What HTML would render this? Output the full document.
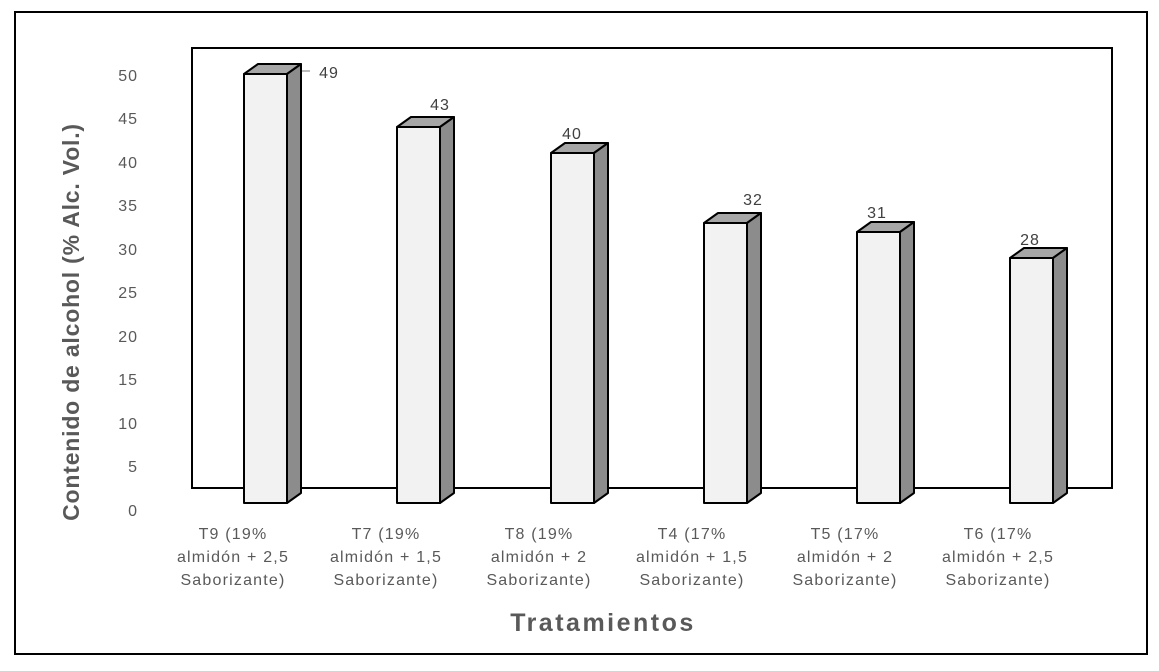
<!DOCTYPE html>
<html><head><meta charset="utf-8"><style>body{margin:0;background:#fff}</style></head><body>
<svg width="1159" height="666" xmlns="http://www.w3.org/2000/svg" font-family="Liberation Sans, sans-serif">
<rect x="15" y="12" width="1132" height="642" fill="#fff" stroke="#000" stroke-width="2"/>
<rect x="192" y="48" width="920" height="440" fill="#fff" stroke="#000" stroke-width="2"/>
<g fill="#595959" font-size="16" text-anchor="end" letter-spacing="1">
<text x="138" y="516">0</text><text x="138" y="472">5</text><text x="138" y="429">10</text><text x="138" y="385">15</text><text x="138" y="342">20</text><text x="138" y="298">25</text><text x="138" y="255">30</text><text x="138" y="211">35</text><text x="138" y="168">40</text><text x="138" y="124">45</text><text x="138" y="81">50</text>
</g>
<g stroke="#000" stroke-width="2" stroke-linejoin="round">
<g><polygon points="244,74 287,74 301,64 258,64" fill="#a6a6a6"/><polygon points="287,74 301,64 301,493 287,503" fill="#8c8c8c"/><rect x="244" y="74" width="43" height="429" fill="#f2f2f2"/></g>
<g><polygon points="397,127 440,127 454,117 411,117" fill="#a6a6a6"/><polygon points="440,127 454,117 454,493 440,503" fill="#8c8c8c"/><rect x="397" y="127" width="43" height="376" fill="#f2f2f2"/></g>
<g><polygon points="551,153 594,153 608,143 565,143" fill="#a6a6a6"/><polygon points="594,153 608,143 608,493 594,503" fill="#8c8c8c"/><rect x="551" y="153" width="43" height="350" fill="#f2f2f2"/></g>
<g><polygon points="704,223 747,223 761,213 718,213" fill="#a6a6a6"/><polygon points="747,223 761,213 761,493 747,503" fill="#8c8c8c"/><rect x="704" y="223" width="43" height="280" fill="#f2f2f2"/></g>
<g><polygon points="857,232 900,232 914,222 871,222" fill="#a6a6a6"/><polygon points="900,232 914,222 914,493 900,503" fill="#8c8c8c"/><rect x="857" y="232" width="43" height="271" fill="#f2f2f2"/></g>
<g><polygon points="1010,258 1053,258 1067,248 1024,248" fill="#a6a6a6"/><polygon points="1053,258 1067,248 1067,493 1053,503" fill="#8c8c8c"/><rect x="1010" y="258" width="43" height="245" fill="#f2f2f2"/></g>
</g>
<line x1="302" y1="71" x2="310" y2="71" stroke="#777" stroke-width="1"/>
<g fill="#404040" font-size="16" text-anchor="middle" letter-spacing="1">
<text x="329" y="78">49</text><text x="440" y="110">43</text><text x="572" y="139">40</text><text x="753" y="205">32</text><text x="877" y="218">31</text><text x="1030" y="245">28</text>
</g>
<g fill="#595959" font-size="16" text-anchor="middle" letter-spacing="1.2">
<text x="233" y="539">T9 (19%</text><text x="233" y="562">almidón + 2,5</text><text x="233" y="585">Saborizante)</text>
<text x="386" y="539">T7 (19%</text><text x="386" y="562">almidón + 1,5</text><text x="386" y="585">Saborizante)</text>
<text x="539" y="539">T8 (19%</text><text x="539" y="562">almidón + 2</text><text x="539" y="585">Saborizante)</text>
<text x="692" y="539">T4 (17%</text><text x="692" y="562">almidón + 1,5</text><text x="692" y="585">Saborizante)</text>
<text x="845" y="539">T5 (17%</text><text x="845" y="562">almidón + 2</text><text x="845" y="585">Saborizante)</text>
<text x="998" y="539">T6 (17%</text><text x="998" y="562">almidón + 2,5</text><text x="998" y="585">Saborizante)</text>
</g>
<text x="603" y="631" fill="#595959" font-size="25" font-weight="bold" text-anchor="middle" letter-spacing="2.5">Tratamientos</text>
<text transform="translate(79,322) rotate(-90)" fill="#595959" font-size="23" font-weight="bold" text-anchor="middle" letter-spacing="0.8">Contenido de alcohol (% Alc. Vol.)</text>
</svg>
</body></html>
